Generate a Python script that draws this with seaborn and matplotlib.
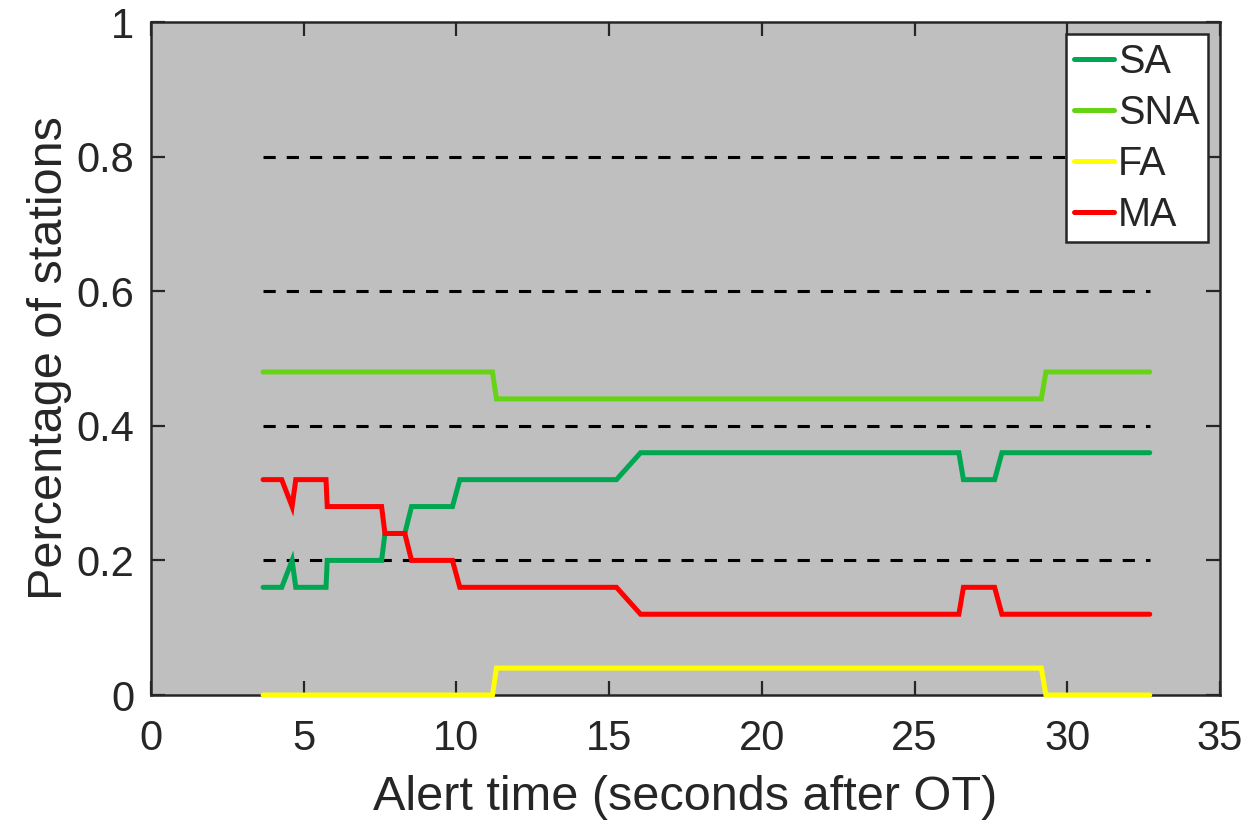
import matplotlib
matplotlib.use("Agg")
import matplotlib.pyplot as plt
import seaborn as sns
import pandas as pd

# Alert times (s after origin time) at which the station fractions change
alert_time = [3.67, 4.28, 4.62, 4.74, 5.73, 5.77, 7.55, 7.66, 8.31, 8.53, 9.87, 10.11,
              11.18, 11.31, 15.24, 16.03, 26.45, 26.60, 27.62, 27.86, 29.15, 29.30, 32.70]

sa = [0.16, 0.16, 0.20, 0.16, 0.16, 0.20, 0.20, 0.24, 0.24, 0.28, 0.28, 0.32,
      0.32, 0.32, 0.32, 0.36, 0.36, 0.32, 0.32, 0.36, 0.36, 0.36, 0.36]
sna = [0.48, 0.48, 0.48, 0.48, 0.48, 0.48, 0.48, 0.48, 0.48, 0.48, 0.48, 0.48,
       0.48, 0.44, 0.44, 0.44, 0.44, 0.44, 0.44, 0.44, 0.44, 0.48, 0.48]
fa = [0.00, 0.00, 0.00, 0.00, 0.00, 0.00, 0.00, 0.00, 0.00, 0.00, 0.00, 0.00,
      0.00, 0.04, 0.04, 0.04, 0.04, 0.04, 0.04, 0.04, 0.04, 0.00, 0.00]
ma = [0.32, 0.32, 0.28, 0.32, 0.32, 0.28, 0.28, 0.24, 0.24, 0.20, 0.20, 0.16,
      0.16, 0.16, 0.16, 0.12, 0.12, 0.16, 0.16, 0.12, 0.12, 0.12, 0.12]

categories = ["SA", "SNA", "FA", "MA"]
colors = ["#00A651", "#66D414", "#FFFF00", "#FF0000"]
ref_levels = [0.2, 0.4, 0.6, 0.8]
x_ticks = [0, 5, 10, 15, 20, 25, 30, 35]
y_ticks = [0, 0.2, 0.4, 0.6, 0.8, 1]
y_tick_labels = ["0", "0.2", "0.4", "0.6", "0.8", "1"]

sns.set_theme(style="white")
plt.rcParams["font.family"] = ["Liberation Sans", "DejaVu Sans"]

df = pd.DataFrame({
    "time": alert_time * 4,
    "frac": sa + sna + fa + ma,
    "type": sum([[c] * len(alert_time) for c in categories], []),
})

fig = plt.figure(figsize=(12.6, 8.22), dpi=100)
ax = fig.add_axes([151 / 1260, 1 - 695 / 822, (1220 - 151) / 1260, (695 - 22) / 822])
ax.set_facecolor("#BFBFBF")

# dashed reference levels
ax.hlines(ref_levels, alert_time[0], alert_time[-1], colors="black",
          linestyles=(0, (4.0, 3.6)), linewidth=2.2, zorder=1.5)

sns.lineplot(data=df, x="time", y="frac", hue="type", hue_order=categories,
             palette=dict(zip(categories, colors)), estimator=None, sort=False,
             linewidth=3.6, ax=ax, legend=False, zorder=3)
for ln in ax.lines:
    ln.set_clip_on(False)
    ln.set_solid_joinstyle("miter")

ax.set_xlim(0, 35)
ax.set_ylim(0, 1)
ax.set_xticks(x_ticks)
ax.set_xticklabels([str(v) for v in x_ticks])
ax.set_yticks(y_ticks)
ax.set_yticklabels(y_tick_labels)
ax.tick_params(direction="in", length=10, width=1.6, color="#262626",
               labelsize=30, labelcolor="#262626", top=True, right=True,
               bottom=True, left=True)
ax.tick_params(axis="x", pad=17)
ax.tick_params(axis="y", pad=12)
for sp in ax.spines.values():
    sp.set_color("#262626")
    sp.set_linewidth(1.8)
    sp.set_zorder(2.5)

ax.set_xlabel("Alert time (seconds after OT)", fontsize=35, color="#262626", labelpad=12)
ax.set_ylabel("Percentage of stations", fontsize=35, color="#262626", labelpad=3)

handles = [plt.Line2D([], [], color=c, linewidth=3.6) for c in colors]
leg = ax.legend(handles, categories, loc="upper right", fontsize=28.5,
                frameon=True, fancybox=False, framealpha=1, edgecolor="#262626",
                handlelength=1.0, handletextpad=0.1, borderpad=0.22,
                labelspacing=0.33, borderaxespad=0.3)
leg.get_frame().set_linewidth(1.8)
leg.get_frame().set_facecolor("white")

fig.savefig("out.png", dpi=100)
